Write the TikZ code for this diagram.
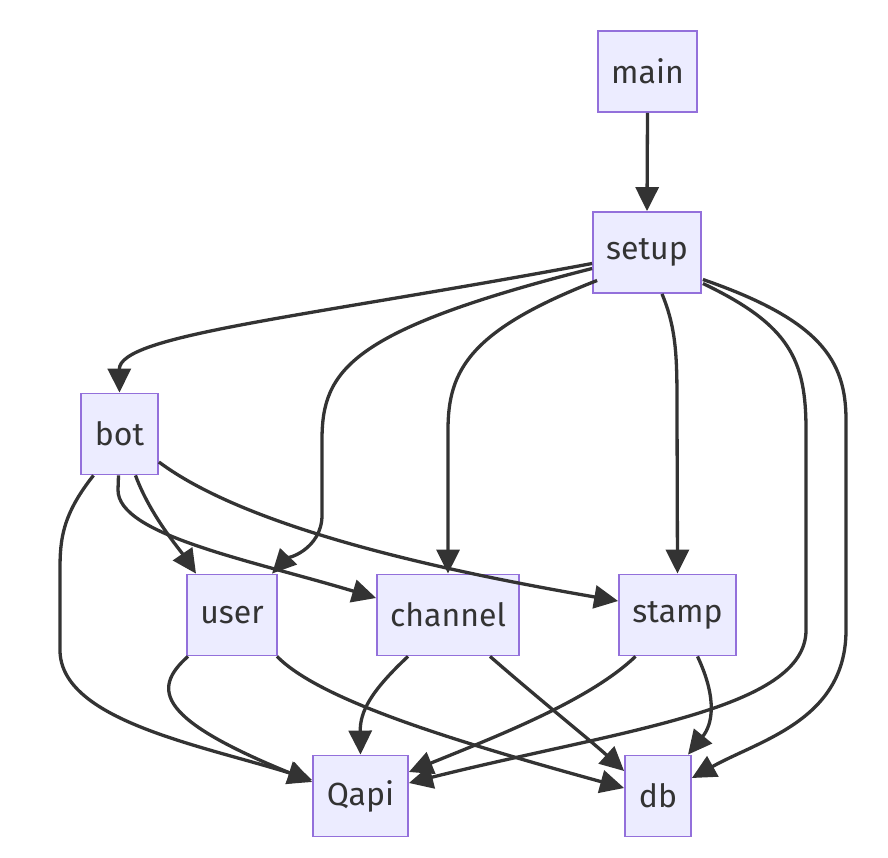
\documentclass[tikz,border=0pt]{standalone}
\usepackage{fontspec}
\setmainfont{Fira Sans}
\usetikzlibrary{arrows.meta,calc}
\definecolor{nodefill}{HTML}{ECECFF}
\definecolor{nodeline}{HTML}{9370DB}
\definecolor{edgecol}{HTML}{333333}
\tikzset{
  box/.style={draw=nodeline, fill=nodefill, line width=1.8pt, inner sep=0pt,
    minimum height=81pt, text=edgecol, font=\fontsize{32}{36}\selectfont},
  edge/.style={draw=edgecol, line width=3.3pt,
    -{Triangle[length=24pt,width=23pt]}}
}
\begin{document}
\begin{tikzpicture}[x=1pt,y=-1pt]
\useasboundingbox (0,0) rectangle (888,858);
\node[box, minimum width=99pt]  (main)    at (647.5,71.5) {main};
\node[box, minimum width=108pt] (setup)   at (647,252.5) {setup};
\node[box, minimum width=77pt]  (bot)     at (119.5,434) {bot};
\node[box, minimum width=90pt]  (user)    at (232,615) {user};
\node[box, minimum width=142pt] (channel) at (448,615) {channel};
\node[box, minimum width=117pt] (stamp)   at (677.5,615) {stamp};
\node[box, minimum width=95pt]  (qapi)    at (360.5,796) {Qapi};
\node[box, minimum width=66pt]  (db)      at (658,796) {db};

% main -> setup
\draw[edge] (main.south) -- (setup.north);
% setup -> bot
\draw[edge] ($(setup.west)+(0,11)$) .. controls (300,318) and (119,335) .. (bot.north);
% setup -> user
\draw[edge] ($(setup.west)+(0,16)$) .. controls (350,330) and (322,370) .. (322,440) -- (322,515) .. controls (322,550) and (285,560) .. ($(user.north)+(40,0)$);
% setup -> channel
\draw[edge] ($(setup.west)+(5,28)$) .. controls (470,330) and (448,370) .. (448,430) -- (channel.north);
% setup -> stamp
\draw[edge] ($(setup.south)+(15,0)$) .. controls (677,330) and (677,360) .. (677,410) -- (stamp.north);
% setup -> Qapi
\draw[edge] ($(setup.east)+(1,31)$) .. controls (790,325) and (806,360) .. (806,430) -- (806,630) .. controls (806,710) and (620,730) .. ($(qapi.east)+(0,-13)$);
% setup -> db
\draw[edge] ($(setup.east)+(1,27)$) .. controls (820,320) and (846,360) .. (846,420) -- (846,630) .. controls (846,720) and (760,740) .. ($(db.east)+(0,-18)$);
% bot -> user
\draw[edge] ($(bot.south)+(16,0)$) .. controls (150,515) and (180,550) .. ($(user.north)+(-36,0)$);
% bot -> channel
\draw[edge] ($(bot.south)+(-1,0)$) -- (118,490) .. controls (118,535) and (250,560) .. ($(channel.west)+(0,-17)$);
% bot -> stamp
\draw[edge] ($(bot.east)+(0,28)$) .. controls (250,530) and (450,572) .. ($(stamp.west)+(0,-14)$);
% bot -> Qapi
\draw[edge] ($(bot.south)+(-26,0)$) .. controls (62,515) and (60,540) .. (60,570) -- (60,650) .. controls (60,720) and (200,745) .. ($(qapi.west)+(0,-16)$);
% user -> Qapi
\draw[edge] ($(user.south)+(-44,0)$) .. controls (150,690) and (160,720) .. ($(qapi.west)+(0,-14)$);
% user -> db
\draw[edge] ($(user.south)+(45,0)$) .. controls (320,700) and (450,740) .. ($(db.west)+(0,-8)$);
% channel -> Qapi
\draw[edge] ($(channel.south)+(-40,0)$) .. controls (370,692) and (360,712) .. (qapi.north);
% channel -> db
\draw[edge] ($(channel.south)+(42,0)$) .. controls (540,700) and (590,740) .. ($(db.west)+(0,-25)$);
% stamp -> Qapi
\draw[edge] ($(stamp.south)+(-42,0)$) .. controls (590,700) and (500,735) .. ($(qapi.east)+(0,-24)$);
% stamp -> db
\draw[edge] ($(stamp.south)+(20,0)$) .. controls (718,700) and (712,725) .. ($(db.north)+(30,0)$);
\end{tikzpicture}
\end{document}
